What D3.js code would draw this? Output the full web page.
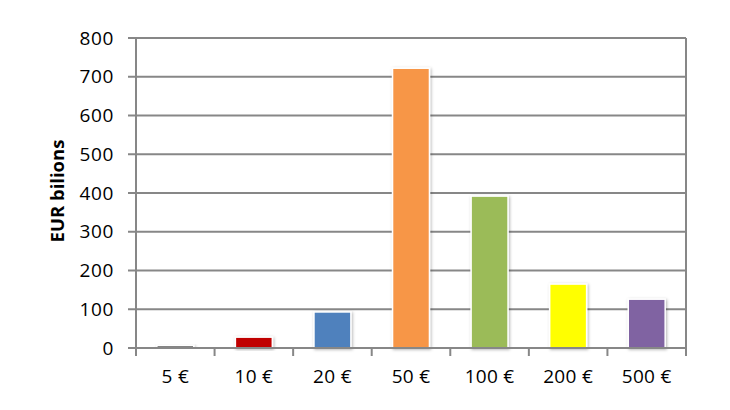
<!DOCTYPE html>
<html>
<head>
<meta charset="utf-8">
<script src="https://cdn.jsdelivr.net/npm/d3@7"></script>
<style>
  html, body { margin: 0; padding: 0; background: #fff; }
  svg { display: block; font-family: "Open Sans", "Noto Sans", sans-serif; }
</style>
</head>
<body>
<div id="chart"></div>
<script>
// Banknote denominations and value in circulation (EUR billions)
const denominations = ['5 €', '10 €', '20 €', '50 €', '100 €', '200 €', '500 €'];
const values = [7, 28, 93, 722, 392, 165, 126];
const barColors = ['#808080', '#c00000', '#4f81bd', '#f79646', '#9bbb59', '#ffff00', '#8064a2'];
const yTicks = [0, 100, 200, 300, 400, 500, 600, 700, 800];

const width = 730;
const height = 410;
const margin = { top: 38, right: 44, bottom: 62, left: 136 };
const gridColor = '#878787';

const svg = d3.select('#chart')
  .append('svg')
  .attr('width', width)
  .attr('height', height);

const defs = svg.append('defs');
const shadow = defs.append('filter')
  .attr('id', 'shadow')
  .attr('x', '-20%').attr('y', '-20%')
  .attr('width', '140%').attr('height', '140%');
shadow.append('feDropShadow')
  .attr('dx', 1).attr('dy', 1)
  .attr('stdDeviation', 1.5)
  .attr('flood-color', '#000')
  .attr('flood-opacity', 0.3);

const x = d3.scaleBand()
  .domain(denominations)
  .range([margin.left, width - margin.right])
  .paddingInner(0.53)
  .paddingOuter(0.265);

const y = d3.scaleLinear()
  .domain([0, 800])
  .range([height - margin.bottom, margin.top]);

// Horizontal gridlines
svg.append('g')
  .selectAll('line')
  .data(yTicks)
  .join('line')
  .attr('x1', margin.left - 8)
  .attr('x2', width - margin.right)
  .attr('y1', d => y(d))
  .attr('y2', d => y(d))
  .attr('stroke', gridColor)
  .attr('stroke-width', 2);

// Frame: left and right borders
svg.append('line')
  .attr('x1', margin.left).attr('x2', margin.left)
  .attr('y1', margin.top).attr('y2', y(0) + 8)
  .attr('stroke', gridColor).attr('stroke-width', 2);
svg.append('line')
  .attr('x1', width - margin.right).attr('x2', width - margin.right)
  .attr('y1', margin.top).attr('y2', y(0) + 8)
  .attr('stroke', gridColor).attr('stroke-width', 2);

// Y axis labels
svg.append('g')
  .attr('transform', `translate(${margin.left - 8},0)`)
  .call(d3.axisLeft(y).tickValues(yTicks).tickSize(0).tickPadding(14))
  .call(g => g.select('.domain').remove())
  .selectAll('text')
  .attr('fill', '#000')
  .attr('font-size', '19px')
  .attr('letter-spacing', '0.6px')
  .attr('font-family', '"Open Sans", "Noto Sans", sans-serif');

// Bars
svg.append('g')
  .selectAll('rect')
  .data(values)
  .join('rect')
  .attr('x', (d, i) => x(denominations[i]))
  .attr('y', d => y(d))
  .attr('width', x.bandwidth())
  .attr('height', d => y(0) - y(d))
  .attr('fill', (d, i) => barColors[i])
  .attr('stroke', '#fff')
  .attr('stroke-width', 1.5)
  .attr('filter', 'url(#shadow)');

// X axis with category boundary ticks
const boundaries = d3.range(denominations.length + 1)
  .map(i => margin.left + i * (width - margin.left - margin.right) / denominations.length);

svg.append('line')
  .attr('x1', margin.left).attr('x2', width - margin.right)
  .attr('y1', y(0)).attr('y2', y(0))
  .attr('stroke', gridColor).attr('stroke-width', 2);

svg.append('g')
  .selectAll('line')
  .data(boundaries)
  .join('line')
  .attr('x1', d => d).attr('x2', d => d)
  .attr('y1', y(0)).attr('y2', y(0) + 8)
  .attr('stroke', gridColor).attr('stroke-width', 2);

svg.append('g')
  .attr('transform', `translate(0,${y(0)})`)
  .call(d3.axisBottom(x).tickSize(0).tickPadding(22))
  .call(g => g.select('.domain').remove())
  .selectAll('text')
  .attr('fill', '#000')
  .attr('font-size', '19px')
  .attr('letter-spacing', '0.3px')
  .attr('font-family', '"Open Sans", "Noto Sans", sans-serif');

// Y axis title
svg.append('text')
  .attr('transform', `translate(64,${(y(0) + y(800)) / 2 - 2}) rotate(-90)`)
  .attr('text-anchor', 'middle')
  .attr('font-size', '18.5px')
  .attr('font-weight', 'bold')
  .attr('fill', '#000')
  .text('EUR bilions');
</script>
</body>
</html>
